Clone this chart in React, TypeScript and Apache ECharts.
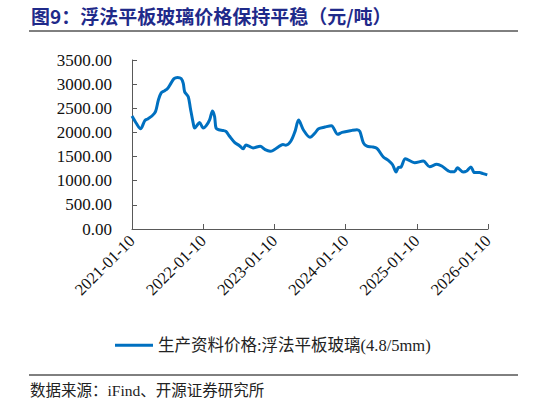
import { useEffect, useRef } from "react";
import * as echarts from "echarts";

// x position in years (2021.0 = 2021-01-10)
const years = [
  2021.0, 2021.06, 2021.12, 2021.18, 2021.22, 2021.28, 2021.33, 2021.37, 2021.41, 2021.46,
  2021.5, 2021.54, 2021.59, 2021.64, 2021.69, 2021.72, 2021.74, 2021.79, 2021.82, 2021.86,
  2021.88, 2021.93, 2021.95, 2022.0, 2022.04, 2022.09, 2022.13, 2022.16, 2022.18, 2022.22,
  2022.28, 2022.32, 2022.37, 2022.44, 2022.51, 2022.56, 2022.6, 2022.65, 2022.7, 2022.8,
  2022.87, 2022.94, 2022.98, 2023.05, 2023.12, 2023.16, 2023.23, 2023.29, 2023.34, 2023.41,
  2023.5, 2023.57, 2023.62, 2023.71, 2023.8, 2023.89, 2023.95, 2024.09, 2024.16, 2024.2,
  2024.25, 2024.3, 2024.37, 2024.44, 2024.53, 2024.6, 2024.66, 2024.71, 2024.74, 2024.78,
  2024.84, 2024.97, 2025.09, 2025.18, 2025.28, 2025.35, 2025.47, 2025.53, 2025.57, 2025.65,
  2025.7, 2025.76, 2025.81, 2025.88, 2025.93, 2025.99,
];

const prices = [
  2340, 2190, 2075, 2245, 2280, 2340, 2430, 2670, 2820, 2865,
  2910, 3000, 3115, 3140, 3115, 3015, 2840, 2740, 2500, 2190,
  2090, 2180, 2205, 2090, 2135, 2260, 2445, 2330, 2090, 2055,
  2040, 2020, 1920, 1795, 1725, 1660, 1740, 1710, 1680, 1715,
  1645, 1612, 1626, 1694, 1750, 1736, 1817, 2022, 2255, 2045,
  1899, 1988, 2075, 2111, 2140, 1960, 2002, 2043, 2057, 2022,
  1783, 1715, 1701, 1668, 1490, 1422, 1330, 1182, 1270, 1285,
  1455, 1373, 1408, 1291, 1340, 1305, 1188, 1188, 1270, 1182,
  1203, 1285, 1168, 1168, 1147, 1120,
];

const seriesName = "生产资料价格:浮法平板玻璃(4.8/5mm)";
const title = "图9：浮法平板玻璃价格保持平稳（元/吨）";
const source = "数据来源：iFind、开源证券研究所";

export default function App() {
  const ref = useRef<HTMLDivElement>(null);

  useEffect(() => {
    if (!ref.current) return;
    const chart = echarts.init(ref.current, null, { renderer: "svg" });
    const serif = "'Liberation Serif', 'Times New Roman', 'Noto Sans CJK SC', serif";

    chart.setOption({
      animation: false,
      backgroundColor: "#ffffff",
      grid: { left: 132, right: 58, top: 60, bottom: 176 },
      graphic: [
        {
          type: "text",
          left: 31,
          top: 6,
          style: {
            text: title,
            fill: "#1f2a8a",
            font: "bold 19px 'Noto Sans CJK SC', sans-serif",
          },
        },
        {
          type: "line",
          shape: { x1: 29, y1: 31, x2: 518, y2: 31 },
          style: { stroke: "#000000", lineWidth: 1 },
        },
        {
          type: "line",
          shape: { x1: 29, y1: 375, x2: 518, y2: 375 },
          style: { stroke: "#000000", lineWidth: 1 },
        },
        {
          type: "text",
          left: 30,
          top: 383,
          style: {
            text: source,
            fill: "#222222",
            font: "15.5px 'Liberation Serif', 'Noto Sans CJK SC', serif",
          },
        },
      ],
      legend: {
        left: 110,
        top: 332,
        itemWidth: 38,
        itemHeight: 3,
        icon: "rect",
        itemGap: 5,
        textStyle: { fontFamily: serif, fontSize: 16.5, color: "#222" },
        data: [seriesName],
      },
      xAxis: {
        type: "value",
        min: 2021,
        max: 2026,
        interval: 1,
        axisLine: { show: true, lineStyle: { color: "#595959", width: 1 } },
        axisTick: { show: true, inside: true, length: 5, lineStyle: { color: "#595959" } },
        splitLine: { show: false },
        axisLabel: {
          rotate: 45,
          margin: 9,
          color: "#111",
          fontFamily: serif,
          fontSize: 16.5,
          formatter: (v: number) => `${v}-01-10`,
        },
      },
      yAxis: {
        type: "value",
        min: 0,
        max: 3500,
        interval: 500,
        axisLine: { show: true, lineStyle: { color: "#595959", width: 1 } },
        axisTick: { show: true, inside: true, length: 5, lineStyle: { color: "#595959" } },
        splitLine: { show: false },
        axisLabel: {
          margin: 20,
          color: "#111",
          fontFamily: serif,
          fontSize: 17,
          formatter: (v: number) => v.toFixed(2),
        },
      },
      series: [
        {
          name: seriesName,
          type: "line",
          data: years.map((y, i) => [y, prices[i]]),
          showSymbol: false,
          smooth: 0.3,
          lineStyle: { color: "#0070c0", width: 3 },
          itemStyle: { color: "#0070c0" },
        },
      ],
    });

    return () => chart.dispose();
  }, []);

  return (
    <div
      ref={ref}
      style={{ position: "absolute", left: 0, top: 0, width: 546, height: 405 }}
    />
  );
}
